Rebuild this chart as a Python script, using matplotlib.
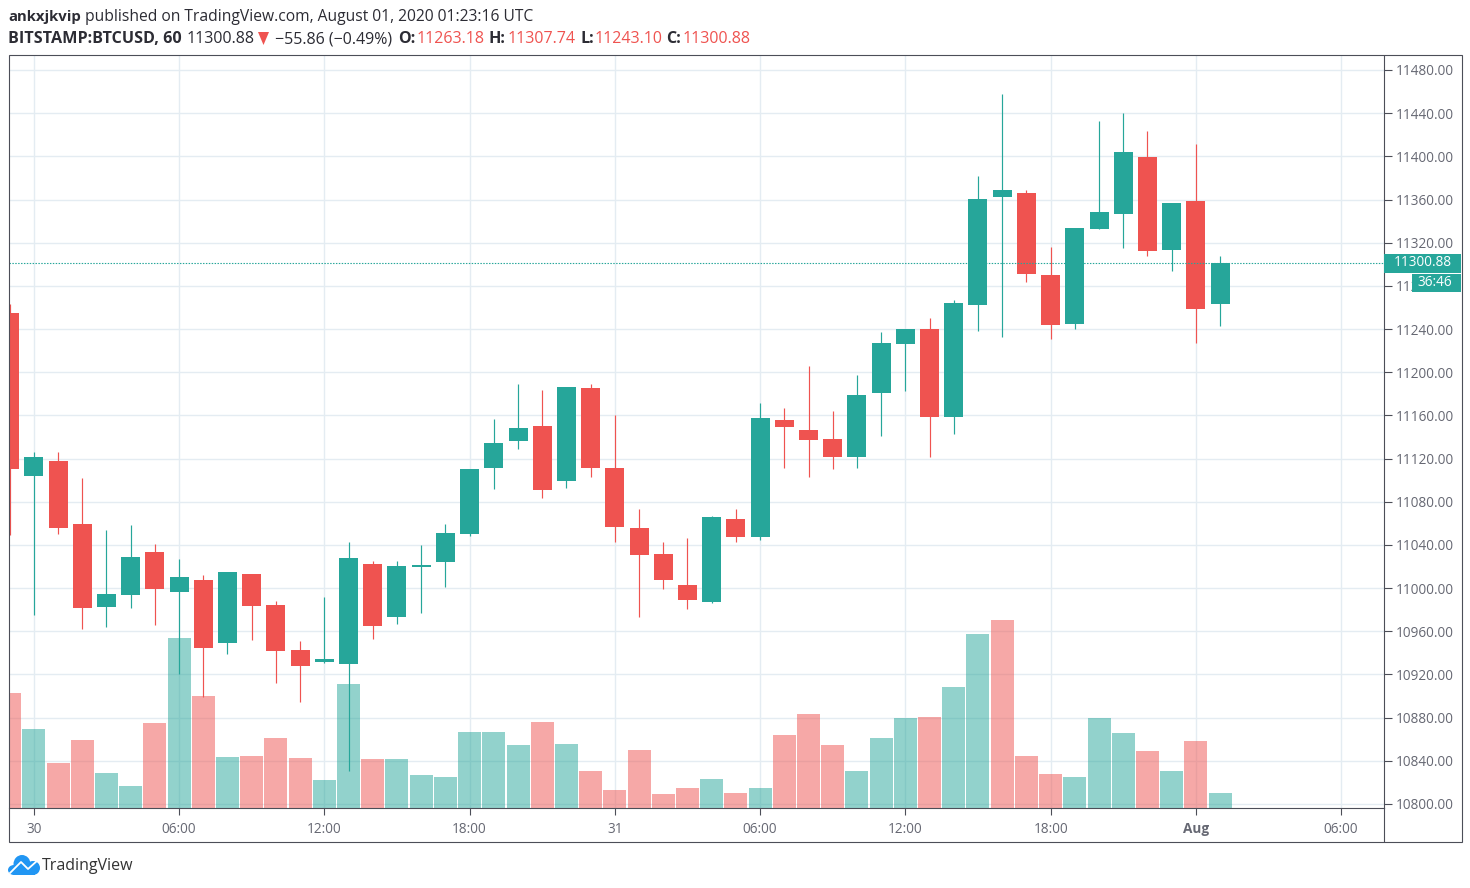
#!/usr/bin/env python3
# -*- coding: utf-8 -*-
import matplotlib
matplotlib.use("Agg")
import matplotlib.pyplot as plt
from matplotlib.patches import Rectangle, Polygon, Ellipse
from matplotlib.lines import Line2D

W, H = 1470, 888
GREEN = "#26a69a"
RED = "#ef5350"
FRAME = "#4c4e58"
GRID = "#e4ecf2"
TICKTXT = "#666873"
HEADTXT = "#2c2c34"

# hourly candles, first one is the hour before "30"
hours = list(range(-1, 50))
opens = [11255, 11104, 11118, 11059, 10982.5, 10994, 11033.5, 10996.5, 11007.5, 10949,
         11013, 10984.5, 10943, 10931.5, 10930, 11022, 10973, 11019.5, 11024, 11050,
         11111, 11136, 11150, 11099, 11185.5, 11111, 11055.5, 11031.5, 11003, 10987,
         11064, 11047.5, 11155.5, 11146.5, 11138, 11121.5, 11181, 11226, 11240, 11158.5,
         11262, 11362, 11366, 11290, 11244.5, 11332.5, 11346.5, 11399.5, 11313, 11358.5,
         11263.18]
highs = [11263, 11126, 11126, 11102, 11054, 11058.5, 11041, 11027, 11012, 11015,
         11013, 10988, 10951, 10992, 11043, 11025, 11025, 11040, 11059.5, 11110.5,
         11157, 11189, 11183.5, 11186, 11189, 11160.5, 11073, 11042.5, 11046.5, 11067,
         11073, 11171.5, 11167, 11206, 11164, 11197.5, 11237, 11240, 11250, 11267,
         11382, 11458, 11369, 11316, 11333.5, 11433, 11440, 11423.5, 11357, 11411.5,
         11307.74]
lows = [11049, 10975, 11050, 10962, 10964, 10982, 10966, 10920, 10899, 10939,
        10952, 10912, 10894.5, 10930.5, 10831, 10953, 10967, 10977, 11001, 11048,
        11092, 11129, 11083.5, 11093, 11103, 11042.5, 10973, 10999, 10980.5, 10986,
        11042.5, 11044.5, 11111, 11103, 11110.5, 11111, 11141, 11182.5, 11121.5, 11143,
        11238, 11232.5, 11283.5, 11231, 11240, 11332.5, 11315, 11307.5, 11294, 11227,
        11243.10]
closes = [11110, 11121.5, 11056, 10982, 10994.5, 11029, 10999, 11010, 10944.5, 11015,
          10983.5, 10942, 10928, 10934, 11028, 10965, 11020.5, 11021.5, 11051, 11110.5,
          11134.5, 11148, 11091, 11186, 11111, 11056.5, 11031, 11007.5, 10989, 11066,
          11047.5, 11157.5, 11149.5, 11137, 11121.5, 11179, 11227, 11240, 11158.5, 11264,
          11360.5, 11369, 11291, 11244, 11333.5, 11348.5, 11404, 11312, 11357, 11258.5,
          11300.88]
# volume has no scale on the chart, values are read as height above the axis
volumes = [115, 79, 45, 68, 35, 22, 85, 170, 112, 51,
           52, 70, 50, 28, 124, 49, 49, 33, 31, 76,
           76, 63, 86, 64, 37, 18, 58, 14, 20, 29,
           15, 20, 73, 94, 63, 37, 70, 90, 91, 121,
           174, 188, 52, 34, 31, 90, 75, 57, 37, 67,
           15]
vol_up = [0, 1, 0, 0, 1, 1, 0, 1, 0, 1,
          0, 0, 0, 1, 1, 0, 1, 1, 1, 1,
          1, 1, 0, 1, 0, 0, 0, 0, 0, 1,
          0, 1, 0, 0, 0, 1, 1, 1, 0, 1,
          1, 0, 0, 0, 1, 1, 1, 0, 1, 0,
          1]

price_ticks = list(range(10800, 11481, 40))
time_ticks = [0, 6, 12, 18, 24, 30, 36, 42, 48, 54]
time_labels = ["30", "06:00", "12:00", "18:00", "31", "06:00", "12:00", "18:00", "Aug", "06:00"]
last_price = 11300.88

plt.rcParams["font.family"] = ["Open Sans", "DejaVu Sans"]
fig = plt.figure(figsize=(W / 100, H / 100), dpi=100, facecolor="white")


def fx(px):
    return px / W


def fy(py):
    return 1 - py / H


def box(x0, y0, x1, y1, **kw):
    fig.add_artist(Rectangle((fx(x0), fy(y1)), (x1 - x0) / W, (y1 - y0) / H,
                             transform=fig.transFigure, **kw))


def label(x, y, s, **kw):
    kw.setdefault("va", "center")
    kw.setdefault("color", HEADTXT)
    fig.text(fx(x), fy(y), s, **kw)


rect = [fx(9), fy(808), (1384 - 9) / W, (808 - 56) / H]

bg = fig.add_axes(rect, zorder=1)
ax = fig.add_axes(rect, zorder=3, sharex=bg, sharey=bg)
vol = fig.add_axes(rect, zorder=2, sharex=bg)

# pixel scale of the chart: 24.21 px an hour, 1.0794 px a dollar
PX_HOUR = 24.21
bg.set_xlim((9 - 33.8) / PX_HOUR, (1384 - 33.8) / PX_HOUR)
bg.set_ylim(11480 - (808 - 70) / 1.0794, 11480 + (70 - 56) / 1.0794)
vol.set_ylim(0, 752)

bg.set_xticks(time_ticks)
bg.set_yticks(price_ticks)
bg.grid(True, color=GRID, lw=1)
bg.tick_params(left=False, bottom=False, labelleft=False, labelbottom=False)
for s in bg.spines.values():
    s.set_visible(False)

vol.patch.set_visible(False)
vol.axis("off")
for x, v, up in zip(hours, volumes, vol_up):
    vol.bar(x, v, width=23 / PX_HOUR, color=GREEN if up else RED, alpha=0.5, lw=0)

ax.patch.set_visible(False)
for x, o, h, l, c in zip(hours, opens, highs, lows, closes):
    col = GREEN if c >= o else RED
    ax.vlines(x, l, h, color=col, lw=0.85, zorder=2, clip_on=False)
    ax.bar(x, abs(c - o), bottom=min(o, c), width=19 / PX_HOUR, color=col, lw=0, zorder=3)
ax.axhline(last_price, color=GREEN, lw=0.8, ls=(0, (1.3, 1.3)), zorder=4)

ax.yaxis.tick_right()
ax.set_xticks(time_ticks)
ax.set_xticklabels(time_labels)
ax.set_yticks(price_ticks)
ax.set_yticklabels(["%.2f" % p for p in price_ticks])
ax.tick_params(axis="y", length=5.5, width=0.8, color=FRAME, labelcolor=TICKTXT, labelsize=9.8, pad=3)
ax.tick_params(axis="x", length=5, width=0.8, color=FRAME, labelcolor=TICKTXT, labelsize=9.8, pad=5)
ax.get_xticklabels()[time_labels.index("Aug")].set_fontweight("bold")
for s in ["top", "left"]:
    ax.spines[s].set_visible(False)
for s in ["right", "bottom"]:
    ax.spines[s].set_color(FRAME)
    ax.spines[s].set_linewidth(0.8)

# outer frame, price scale line runs down to it
box(8.5, 55.5, 1461.5, 841.5, fill=False, ec=FRAME, lw=0.8, zorder=6)
fig.add_artist(Line2D([fx(1384), fx(1384)], [fy(808), fy(841)], transform=fig.transFigure,
                      color=FRAME, lw=0.8, zorder=6))

# last price and countdown tags
box(1384, 254, 1461, 273, fc=GREEN, ec="none", zorder=5)
box(1412, 274, 1461, 292, fc=GREEN, ec="none", zorder=5)
label(1423, 262.5, "11300.88", color="white", fontsize=9.8, fontweight="medium", ha="center", zorder=7)
label(1434.5, 282.5, "36:46", color="white", fontsize=9.8, fontweight="medium", ha="center", zorder=7)

# header
HY1, HY2 = 17, 39
label(8, HY1, "ankxjkvip", fontsize=10.7, fontweight="bold")
label(85, HY1, "published on TradingView.com, August 01, 2020 01:23:16 UTC", fontsize=11.28)
label(8, HY2, "BITSTAMP:BTCUSD, 60", fontsize=11.6, fontweight="bold")
label(187, HY2, "11300.88", fontsize=11.5)
fig.add_artist(Polygon([(fx(258), fy(32)), (fx(269), fy(32)), (fx(263.5), fy(45))],
                       transform=fig.transFigure, fc=RED, ec="none"))
label(275, HY2, "\u221255.86 (\u22120.49%)", fontsize=11.55)
for xk, k, xv, v in [(398, "O:", 417, "11263.18"), (489, "H:", 508, "11307.74"),
                     (580, "L:", 595, "11243.10"), (666, "C:", 683, "11300.88")]:
    label(xk, HY2, k, fontsize=11.6, fontweight="bold")
    label(xv, HY2, v, fontsize=11.5, color=RED)

# footer logo
BLUE = "#2196f3"
for cx, cy, w, h in [(22, 864, 17, 18), (14, 870, 12, 10), (33, 868, 14, 14)]:
    fig.add_artist(Ellipse((fx(cx), fy(cy)), w / W, h / H, transform=fig.transFigure, fc=BLUE, ec="none"))
box(13, 868, 35, 875, fc=BLUE, ec="none")
fig.add_artist(Line2D([fx(10), fx(21), fx(28), fx(38)], [fy(873), fy(862), fy(869), fy(860)],
                      transform=fig.transFigure, color="white", lw=1.3))
label(42, 866, "TradingView", fontsize=11.5, color="#333")

fig.savefig("out.png", dpi=100)
